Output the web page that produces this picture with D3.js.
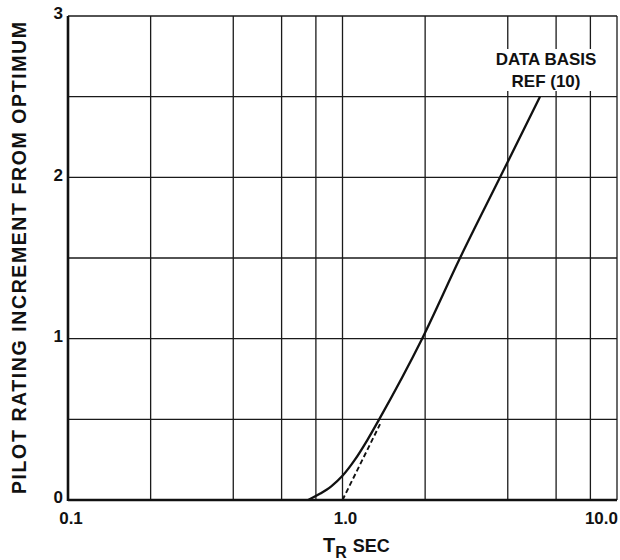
<!DOCTYPE html>
<html lang="en">
  <head>
    <meta charset="UTF-8" />
    <title>Pilot Rating Increment vs T_R</title>
    <script src="https://d3js.org/d3.v7.min.js"></script>
    <style>
      body {
        margin: 0;
        background: #fff;
        font-family: "Liberation Sans", Arial, sans-serif;
      }
      text {
        font-weight: bold;
        fill: #111;
      }
    </style>
  </head>
  <body>
    <div id="chart"></div>
    <script>
      const width = 620;
      const height = 560;

      // values
      const xGrid = [0.2, 0.4, 0.6, 0.8, 1, 2, 4, 6, 8, 10];
      const xTickValues = [0.1, 1, 10];
      const xTickLabels = ["0.1", "1.0", "10.0"];
      const yGrid = [0, 0.5, 1, 1.5, 2, 2.5, 3];
      const yTickValues = [0, 1, 2, 3];

      const curveT = [0.75, 0.83, 0.91, 1.0, 1.11, 1.23, 1.36, 1.95, 2.68, 3.75, 5.24];
      const curveRating = [0, 0.04, 0.085, 0.15, 0.25, 0.37, 0.5, 1.0, 1.5, 2.0, 2.5];

      const dashT = [1.0, 1.37];
      const dashRating = [0, 0.47];

      const margin = { top: 16, right: 3, bottom: 60, left: 68 };

      const svg = d3
        .select("#chart")
        .append("svg")
        .attr("width", width)
        .attr("height", height);

      const x = d3
        .scaleLog()
        .domain([0.1, 10])
        .range([margin.left, width - margin.right]);

      const y = d3
        .scaleLinear()
        .domain([0, 3])
        .range([height - margin.bottom, margin.top]);

      // grid
      const grid = svg.append("g").attr("stroke", "#1a1a1a").attr("stroke-width", 1.3);

      grid
        .selectAll("line.v")
        .data(xGrid)
        .join("line")
        .attr("class", "v")
        .attr("x1", (d) => x(d))
        .attr("x2", (d) => x(d))
        .attr("y1", y(0))
        .attr("y2", y(3));

      grid
        .selectAll("line.h")
        .data(yGrid)
        .join("line")
        .attr("class", "h")
        .attr("x1", x(0.1))
        .attr("x2", x(10))
        .attr("y1", (d) => y(d))
        .attr("y2", (d) => y(d));

      // heavier left and bottom axes
      svg
        .append("line")
        .attr("x1", x(0.1))
        .attr("x2", x(0.1))
        .attr("y1", y(0) + 1)
        .attr("y2", y(3))
        .attr("stroke", "#111")
        .attr("stroke-width", 2.6);

      svg
        .append("line")
        .attr("x1", x(0.1))
        .attr("x2", x(10))
        .attr("y1", y(0))
        .attr("y2", y(0))
        .attr("stroke", "#111")
        .attr("stroke-width", 2.6);

      // tick labels
      svg
        .append("g")
        .selectAll("text")
        .data(xTickValues)
        .join("text")
        .attr("x", (d) => x(d))
        .attr("y", y(0) + 24)
        .attr("text-anchor", (d, i) => (i === 2 ? "end" : "middle"))
        .attr("dx", (d, i) => (i === 2 ? 1 : 3))
        .style("font-size", "17px")
        .text((d, i) => xTickLabels[i]);

      svg
        .append("g")
        .selectAll("text")
        .data(yTickValues)
        .join("text")
        .attr("x", x(0.1) - 5)
        .attr("y", (d) => y(d))
        .attr("dy", (d) => (d === 0 ? "0.15em" : "0.2em"))
        .attr("text-anchor", "end")
        .style("font-size", "17px")
        .text((d) => d);

      // data
      const line = d3
        .line()
        .x((d) => x(d[0]))
        .y((d) => y(d[1]))
        .curve(d3.curveMonotoneX);

      svg
        .append("path")
        .datum(d3.zip(curveT, curveRating))
        .attr("d", line)
        .attr("fill", "none")
        .attr("stroke", "#111")
        .attr("stroke-width", 2.3);

      svg
        .append("path")
        .datum(d3.zip(dashT, dashRating))
        .attr("d", d3.line().x((d) => x(d[0])).y((d) => y(d[1])))
        .attr("fill", "none")
        .attr("stroke", "#111")
        .attr("stroke-width", 1.9)
        .attr("stroke-dasharray", "5,3");

      // annotation
      const note = svg.append("g").style("font-size", "17px");
      note
        .append("rect")
        .attr("x", 490)
        .attr("y", 49)
        .attr("width", 113)
        .attr("height", 42)
        .attr("fill", "#fff");
      note
        .append("text")
        .attr("x", 546)
        .attr("y", 65)
        .attr("text-anchor", "middle")
        .text("DATA BASIS");
      note
        .append("text")
        .attr("x", 546)
        .attr("y", 87)
        .attr("text-anchor", "middle")
        .text("REF (10)");

      // axis titles
      const xTitle = svg
        .append("text")
        .attr("x", 323)
        .attr("y", 552)
        .style("font-size", "20px");
      xTitle.append("tspan").text("T");
      xTitle
        .append("tspan")
        .attr("dy", 6)
        .style("font-size", "16px")
        .text("R");
      xTitle
        .append("tspan")
        .attr("dy", -6)
        .attr("dx", 6)
        .style("font-size", "18px")
        .text("SEC");

      svg
        .append("text")
        .attr("transform", "translate(26," + (y(0) + y(3)) / 2 + ") rotate(-90)")
        .attr("text-anchor", "middle")
        .attr("textLength", 472)
        .attr("lengthAdjust", "spacing")
        .style("font-size", "19.5px")
        .text("PILOT RATING INCREMENT FROM OPTIMUM");
    </script>
  </body>
</html>
